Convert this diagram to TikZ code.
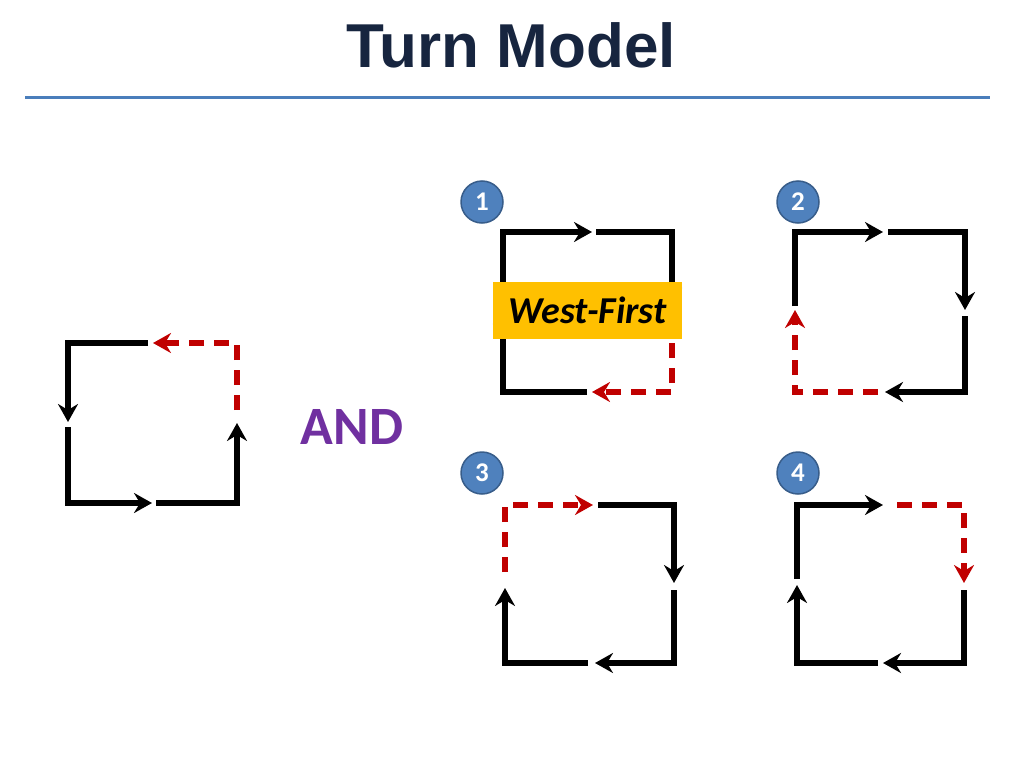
\documentclass[tikz,border=0pt]{standalone}
\usepackage{fontspec}
\setmainfont{Carlito}
\newfontfamily\headfont{Liberation Sans}
\usetikzlibrary{arrows.meta}

\definecolor{titlenavy}{HTML}{17253F}
\definecolor{ruleblue}{HTML}{4A7EBB}
\definecolor{turnred}{HTML}{C00000}
\definecolor{numblue}{HTML}{4F81BD}
\definecolor{numedge}{HTML}{385D8A}
\definecolor{labelgold}{HTML}{FFC000}
\definecolor{andpurple}{HTML}{7030A0}

\begin{document}
\begin{tikzpicture}[
  x=1pt, y=-1pt,
  turn/.style={line width=6pt, -{Stealth[length=18pt,width=20pt,inset=6pt]}},
  blkturn/.style={turn, draw=black},
  redturn/.style={turn, draw=turnred, dash pattern=on 15pt off 10pt},
  num/.style={circle, minimum size=42pt, inner sep=0pt, fill=numblue,
    draw=numedge, line width=1.5pt, text=white,
    font=\bfseries\fontsize{27}{27}\selectfont}
]
\useasboundingbox (0,0) rectangle (1024,768);

% Title and rule
\node[anchor=base, text=titlenavy, font=\headfont\bfseries\fontsize{62}{62}\selectfont]
  (title) at (511,67) {Turn Model};
\draw[ruleblue, line width=3pt] (25,97) -- (990,97);

% Left cycle (counter-clockwise)
\draw[blkturn] (148,343) -- (68,343) -- (68,422);
\draw[blkturn] (68,427) -- (68,503) -- (152,503);
\draw[blkturn] (156,503) -- (237,503) -- (237,423);
\draw[redturn] (237,410) -- (237,343) -- (153,343);

\node[text=andpurple, font=\bfseries\fontsize{54}{54}\selectfont] (and) at (352,427) {AND};

% Case 1
\node[num] (n1) at (482,202) {1};
\draw[blkturn] (587,392) -- (503,392) -- (503,306);
\draw[blkturn] (503,312) -- (503,232) -- (592,232);
\draw[blkturn] (596,232) -- (672,232) -- (672,306);
\draw[redturn] (672,318) -- (672,392) -- (592,392);
\node[fill=labelgold, minimum width=189pt, minimum height=57pt, inner sep=0pt,
  font=\bfseries\itshape\fontsize{38}{38}\selectfont] (wf) at (587.5,310.5) {West-First};

% Case 2
\node[num] (n2) at (798,202) {2};
\draw[blkturn] (795,306) -- (795,232) -- (883,232);
\draw[blkturn] (888,232) -- (965,232) -- (965,310);
\draw[blkturn] (965,316) -- (965,392) -- (885,392);
\draw[redturn] (878,392) -- (795,392) -- (795,310);

% Case 3
\node[num] (n3) at (482,473) {3};
\draw[redturn] (505,572) -- (505,505) -- (593,505);
\draw[blkturn] (598,505) -- (674,505) -- (674,583);
\draw[blkturn] (674,590) -- (674,663) -- (595,663);
\draw[blkturn] (588,663) -- (505,663) -- (505,588);

% Case 4
\node[num] (n4) at (798,473) {4};
\draw[blkturn] (797,579) -- (797,505) -- (883,505);
\draw[redturn] (897,505) -- (964,505) -- (964,583);
\draw[blkturn] (964,590) -- (964,663) -- (883,663);
\draw[blkturn] (878,663) -- (797,663) -- (797,585);

\end{tikzpicture}
\end{document}
